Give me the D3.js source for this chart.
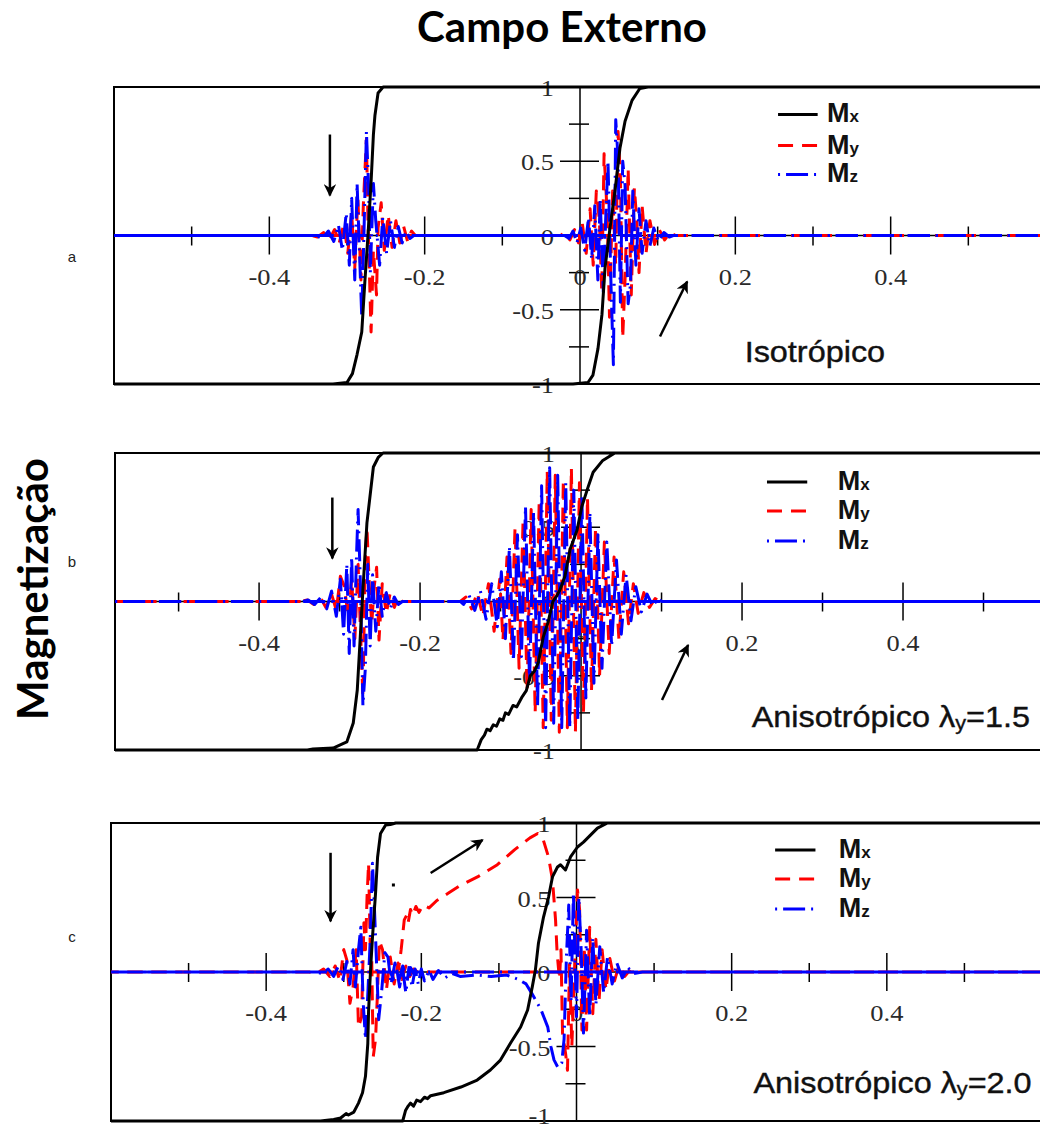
<!DOCTYPE html>
<html>
<head>
<meta charset="utf-8">
<script src="https://cdn.jsdelivr.net/npm/d3@7"></script>
<style>
  body { margin: 0; background: #fff; }
  svg { display: block; }
</style>
</head>
<body>
<svg id="chart" width="1040" height="1129"></svg>
<script>
// Hysteresis loops: magnetisation components vs external field.
// Each series is a list of [field, magnetisation] pairs, walked along the loop:
// first the descending branch (field +0.6 -> -0.6), then the ascending one.

// ---------- Isotropic ----------
const mxIso = [
  [0.6,1],[-0.2535,1],[-0.26,0.96],[-0.264,0.81],[-0.266,0.68],[-0.269,0.36],[-0.273,0],
  [-0.277,-0.31],[-0.281,-0.65],[-0.287,-0.8],[-0.293,-0.93],[-0.3,-0.99],[-0.318,-1],[-0.6,-1],
  [-0.009,-1],[0.0103,-0.99],[0.0167,-0.94],[0.0232,-0.76],[0.0283,-0.53],[0.0322,-0.22],
  [0.0386,0.05],[0.045,0.3],[0.0515,0.59],[0.058,0.77],[0.067,0.91],[0.077,0.99],[0.0875,1],[0.6,1]
];
const myIso = [
  [0.6,0],[-0.212,0],[-0.217,0.03],[-0.222,-0.04],[-0.227,0.06],[-0.232,-0.05],[-0.237,0.1],
  [-0.242,-0.08],[-0.247,0.14],[-0.252,-0.1],[-0.256,0.22],[-0.26,0.05],[-0.262,-0.4],
  [-0.266,-0.1],[-0.269,-0.65],[-0.273,0.1],[-0.275,0.65],[-0.279,0.2],[-0.282,-0.3],
  [-0.286,0.25],[-0.29,-0.22],[-0.294,0.15],[-0.299,-0.12],[-0.304,0.08],[-0.31,-0.05],
  [-0.316,0.04],[-0.323,-0.03],[-0.33,0.02],[-0.338,-0.01],[-0.345,0],[-0.6,0],
  [-0.025,0],[-0.019,0.02],[-0.013,-0.03],[-0.007,0.04],[-0.002,-0.05],[0.003,0.08],
  [0.008,-0.12],[0.013,0.18],[0.017,-0.2],[0.021,0.3],[0.025,0.1],[0.028,-0.38],[0.031,0.55],
  [0.035,0.15],[0.038,-0.55],[0.042,0.3],[0.046,-0.2],[0.049,0.7],[0.052,0.4],[0.055,-0.69],
  [0.058,-0.3],[0.062,0.45],[0.066,-0.4],[0.07,0.32],[0.073,0.11],[0.076,-0.25],[0.08,0.2],
  [0.085,-0.12],[0.09,0.1],[0.096,-0.06],[0.102,0.04],[0.109,-0.03],[0.116,0.02],[0.123,0],[0.6,0]
];
const mzIso = [
  [0.6,0],[-0.214,0],[-0.219,-0.02],[-0.224,0.03],[-0.229,-0.05],[-0.234,0.06],[-0.239,-0.08],
  [-0.244,0.1],[-0.249,-0.12],[-0.254,0.12],[-0.258,-0.2],[-0.263,0.1],[-0.266,0.35],
  [-0.27,-0.25],[-0.272,0.3],[-0.275,0.7],[-0.278,0.05],[-0.281,-0.55],[-0.284,-0.1],
  [-0.287,0.35],[-0.29,-0.3],[-0.294,0.25],[-0.297,-0.2],[-0.301,0.15],[-0.306,-0.1],
  [-0.311,0.07],[-0.317,-0.04],[-0.324,0.03],[-0.332,-0.02],[-0.34,0],[-0.6,0],
  [-0.02,0],[-0.014,-0.02],[-0.009,0.03],[-0.004,-0.05],[0.001,0.05],[0.006,-0.1],[0.011,0.12],
  [0.015,-0.16],[0.019,0.2],[0.023,-0.3],[0.026,0.25],[0.03,-0.38],[0.033,0.1],[0.036,0.5],
  [0.04,-0.35],[0.043,-0.87],[0.046,0.78],[0.049,0.52],[0.052,-0.45],[0.055,0.5],[0.058,0.34],
  [0.062,-0.46],[0.065,-0.33],[0.068,0.3],[0.072,-0.2],[0.076,0.18],[0.08,-0.12],[0.085,0.1],
  [0.09,-0.07],[0.095,0.05],[0.101,-0.04],[0.108,0.02],[0.115,-0.01],[0.12,0],[0.6,0]
];

// ---------- Anisotropic, lambda_y = 1.5 ----------
const mxAni15 = [
  [0.6,1],[-0.246,1],[-0.252,0.97],[-0.258,0.906],[-0.266,0.529],[-0.271,0.077],[-0.2745,-0.259],
  [-0.278,-0.596],[-0.283,-0.818],[-0.291,-0.946],[-0.308,-0.987],[-0.333,-0.993],[-0.34,-1],[-0.6,-1],
  [-0.129,-1],[-0.124,-0.93],[-0.12,-0.9],[-0.117,-0.86],[-0.113,-0.87],[-0.109,-0.83],
  [-0.105,-0.84],[-0.101,-0.79],[-0.097,-0.8],[-0.094,-0.75],[-0.09,-0.76],[-0.0845,-0.7],
  [-0.08,-0.71],[-0.073,-0.64],[-0.068,-0.6],[-0.063,-0.5],[-0.058,-0.47],[-0.053,-0.41],
  [-0.047,-0.24],[-0.041,-0.14],[-0.035,0.0],[-0.03,0.04],[-0.026,0.08],[-0.02,0.17],
  [-0.0137,0.35],[-0.005,0.48],[0.001,0.64],[0.0087,0.77],[0.015,0.87],[0.027,0.95],[0.042,1],[0.6,1]
];
const myAni15 = [
  [0.6,0],[-0.222,0],[-0.227,0.03],[-0.232,-0.04],[-0.237,0.06],[-0.242,-0.08],[-0.247,0.12],
  [-0.251,-0.26],[-0.254,0.23],[-0.257,0.1],[-0.26,-0.15],[-0.263,0.1],[-0.266,0.5],
  [-0.268,0.3],[-0.271,-0.64],[-0.274,-0.2],[-0.277,0.25],[-0.281,-0.25],[-0.285,0.15],
  [-0.289,-0.12],[-0.294,0.1],[-0.299,0.17],[-0.304,-0.06],[-0.31,0.05],[-0.317,-0.04],
  [-0.324,0.03],[-0.332,-0.02],[-0.34,0.01],[-0.35,0],[-0.6,0],
  [-0.15,0],[-0.143,0.03],[-0.136,-0.05],[-0.129,0.06],[-0.122,-0.1],[-0.115,0.12],[-0.108,-0.2],
  [-0.101,0.15],[-0.097,-0.26],[-0.092,0.3],[-0.087,-0.35],[-0.082,0.5],[-0.077,-0.45],
  [-0.072,0.55],[-0.067,-0.6],[-0.062,0.62],[-0.057,-0.75],[-0.052,0.68],[-0.047,-0.85],
  [-0.042,0.88],[-0.037,-0.8],[-0.032,0.85],[-0.027,-0.88],[-0.022,0.82],[-0.017,-0.85],
  [-0.012,0.9],[-0.007,-0.88],[-0.002,0.8],[0.003,-0.75],[0.008,0.7],[0.013,-0.6],[0.018,0.5],
  [0.023,-0.5],[0.029,0.4],[0.035,-0.35],[0.041,0.3],[0.047,-0.25],[0.053,0.2],[0.059,-0.15],
  [0.065,0.12],[0.071,-0.08],[0.078,0.06],[0.085,-0.04],[0.092,0.02],[0.098,0],[0.6,0]
];
const mzAni15 = [
  [0.6,0],[-0.222,0],[-0.227,-0.02],[-0.232,0.03],[-0.237,-0.05],[-0.242,0.06],[-0.247,-0.1],
  [-0.251,0.12],[-0.255,-0.2],[-0.259,0.18],[-0.262,-0.3],[-0.265,0.25],[-0.268,-0.45],
  [-0.271,-0.7],[-0.274,0.1],[-0.277,0.62],[-0.279,0.3],[-0.282,-0.3],[-0.285,0.3],
  [-0.288,-0.35],[-0.291,0.25],[-0.295,-0.22],[-0.299,0.15],[-0.304,-0.1],[-0.31,0.07],
  [-0.316,-0.05],[-0.323,0.03],[-0.331,-0.02],[-0.339,0.01],[-0.346,0],[-0.6,0],
  [-0.15,0],[-0.146,-0.02],[-0.139,0.04],[-0.132,-0.06],[-0.125,0.07],[-0.118,-0.12],[-0.111,0.12],
  [-0.104,-0.17],[-0.099,0.2],[-0.094,-0.25],[-0.089,0.37],[-0.084,-0.4],[-0.079,0.45],
  [-0.074,-0.37],[-0.069,0.64],[-0.064,-0.55],[-0.059,0.6],[-0.054,-0.7],[-0.049,0.78],
  [-0.044,-0.85],[-0.039,0.9],[-0.034,-0.82],[-0.029,0.85],[-0.024,-0.85],[-0.019,0.8],
  [-0.014,-0.85],[-0.009,0.75],[-0.004,-0.8],[0.001,0.72],[0.006,-0.65],[0.011,0.6],[0.016,-0.55],
  [0.021,0.45],[0.026,-0.45],[0.032,0.4],[0.038,-0.3],[0.044,0.28],[0.05,-0.22],[0.056,0.18],
  [0.062,-0.13],[0.068,0.1],[0.075,-0.07],[0.082,0.05],[0.089,-0.03],[0.096,0.02],[0.1,0],[0.6,0]
];

// ---------- Anisotropic, lambda_y = 2.0 ----------
const mxAni20 = [
  [0.6,1],[-0.233,1],[-0.24,0.99],[-0.246,0.987],[-0.2526,0.93],[-0.2564,0.77],[-0.259,0.53],
  [-0.263,0.23],[-0.2655,0.01],[-0.268,-0.26],[-0.269,-0.48],[-0.272,-0.7],[-0.2758,-0.81],
  [-0.281,-0.88],[-0.287,-0.94],[-0.294,-0.96],[-0.297,-0.95],[-0.304,-0.98],[-0.313,-0.99],
  [-0.33,-1],[-0.6,-1],
  [-0.224,-1],[-0.2204,-0.93],[-0.217,-0.9],[-0.214,-0.88],[-0.21,-0.9],[-0.206,-0.86],
  [-0.201,-0.87],[-0.196,-0.84],[-0.192,-0.85],[-0.188,-0.83],[-0.171,-0.81],[-0.149,-0.772],
  [-0.128,-0.725],[-0.111,-0.658],[-0.098,-0.591],[-0.085,-0.477],[-0.072,-0.369],
  [-0.063,-0.255],[-0.057,-0.1],[-0.053,0.013],[-0.049,0.195],[-0.0425,0.369],[-0.036,0.503],
  [-0.031,0.638],[-0.0245,0.705],[-0.0206,0.72],[-0.0142,0.685],[-0.0077,0.772],[0.0013,0.839],
  [0.009,0.872],[0.018,0.919],[0.027,0.966],[0.04,1],[0.6,1]
];
const myAni20 = [
  [0.6,0],[-0.205,0],[-0.21,0.02],[-0.215,-0.03],[-0.22,0.04],[-0.225,-0.05],[-0.23,0.06],
  [-0.235,-0.08],[-0.24,0.1],[-0.245,-0.12],[-0.25,0.15],[-0.254,0.21],[-0.257,-0.2],
  [-0.259,-0.45],[-0.262,-0.57],[-0.264,0.1],[-0.266,0.2],[-0.268,0.73],[-0.27,0.5],
  [-0.272,0.15],[-0.274,0.33],[-0.277,-0.3],[-0.281,-0.37],[-0.284,0.15],[-0.288,-0.1],
  [-0.292,-0.21],[-0.296,0.08],[-0.3,0.15],[-0.305,-0.06],[-0.311,0.04],[-0.318,-0.03],
  [-0.326,0.02],[-0.335,-0.01],[-0.345,0],[-0.6,0],
  [-0.232,0],[-0.229,0.03],[-0.226,0.15],[-0.224,0.25],[-0.222,0.35],[-0.219,0.38],[-0.217,0.33],
  [-0.214,0.42],[-0.211,0.38],[-0.207,0.44],[-0.203,0.4],[-0.198,0.45],[-0.19,0.43],[-0.18,0.48],
  [-0.165,0.53],[-0.15,0.58],[-0.127,0.64],[-0.102,0.72],[-0.08,0.82],[-0.06,0.9],[-0.05,0.93],
  [-0.043,0.89],[-0.036,0.77],[-0.031,0.62],[-0.027,0.35],[-0.025,0.13],[-0.022,-0.05],
  [-0.02,0.15],[-0.018,-0.41],[-0.014,-0.55],[-0.0116,-0.66],[-0.009,0.05],[-0.006,-0.5],
  [-0.002,0.1],[0.0013,0.55],[0.004,0.42],[0.007,-0.39],[0.01,0.17],[0.013,-0.39],[0.017,0.3],
  [0.021,-0.28],[0.025,0.22],[0.029,-0.2],[0.033,0.15],[0.038,-0.12],[0.043,0.09],[0.049,-0.06],
  [0.055,0.05],[0.062,-0.03],[0.07,0.02],[0.078,0],[0.6,0]
];
const mzAni20 = [
  [0.6,0],[-0.205,0],[-0.209,-0.02],[-0.214,0.03],[-0.219,-0.04],[-0.224,0.04],[-0.229,-0.06],
  [-0.234,0.06],[-0.239,-0.08],[-0.243,0.1],[-0.247,0.13],[-0.251,-0.12],[-0.255,-0.32],
  [-0.258,0.1],[-0.261,0.5],[-0.263,0.73],[-0.266,0.2],[-0.269,-0.15],[-0.272,-0.45],
  [-0.275,-0.2],[-0.278,0.3],[-0.281,0.15],[-0.285,-0.1],[-0.288,0.15],[-0.292,-0.08],
  [-0.296,0.07],[-0.301,-0.05],[-0.307,0.04],[-0.313,-0.03],[-0.32,0.02],[-0.328,-0.01],
  [-0.337,0],[-0.6,0],
  [-0.24,0],[-0.236,-0.05],[-0.232,0.03],[-0.228,-0.1],[-0.224,0.02],[-0.22,-0.14],[-0.216,0.03],
  [-0.212,-0.1],[-0.208,0.02],[-0.204,-0.08],[-0.2,0.02],[-0.196,-0.06],[-0.19,0.01],
  [-0.185,-0.05],[-0.178,0.01],[-0.17,-0.04],[-0.16,-0.01],[-0.15,-0.03],[-0.13,-0.02],
  [-0.11,-0.03],[-0.09,-0.02],[-0.075,-0.05],[-0.065,-0.08],[-0.058,-0.14],[-0.046,-0.25],
  [-0.037,-0.37],[-0.033,-0.5],[-0.029,-0.59],[-0.024,-0.64],[-0.019,-0.61],[-0.016,-0.45],
  [-0.013,0.1],[-0.01,0.45],[-0.007,-0.2],[-0.004,0.53],[0.0,-0.3],[0.003,0.5],[0.006,0.15],
  [0.009,-0.41],[0.013,0.28],[0.017,-0.3],[0.021,0.23],[0.025,-0.22],[0.03,0.17],[0.035,-0.14],
  [0.04,0.1],[0.046,-0.08],[0.052,0.06],[0.059,-0.04],[0.066,0.03],[0.074,-0.01],[0.085,0],[0.6,0]
];

// Axis ticks and their labels
const xMajorTicks = [-0.4, -0.2, 0.2, 0.4];
const xMinorTicks = [-0.5, -0.3, -0.1, 0.1, 0.3, 0.5];
const xTickLabels = [-0.4, -0.2, 0, 0.2, 0.4];
const yMajorTicks = [-0.5, 0.5];
const yMinorTicks = [-0.75, -0.25, 0.25, 0.75];
const yTickLabels = [1, 0.5, 0, -0.5, -1];

const seriesNames = ["x", "y", "z"];
const panelTags = ["a", "b", "c"];

// ---------- Layout ----------
const W = 1040, H = 1129;
const panels = [
  { series: [mxIso, myIso, mzIso], xDomain: [-0.6, 0.6], xRange: [114, 1046], yRange: [384, 87],
    caption: { h: 0.212, m: -0.855, main: "Isotrópico" },
    legend: { h0: 0.255, h1: 0.306, ht: 0.318, m: [0.815, 0.606, 0.411] },
    arrows: [[-0.322, 0.68, -0.322, 0.27], [0.103, -0.68, 0.138, -0.31]], dots: [], tagY: 257 },
  { series: [mxAni15, myAni15, mzAni15], xDomain: [-0.579, 0.6], xRange: [115, 1064], yRange: [750, 453],
    caption: { h: 0.212, m: -0.845, main: "Anisotrópico λ", sub: "y", tail: "=1.5" },
    legend: { h0: 0.231, h1: 0.281, ht: 0.319, m: [0.805, 0.609, 0.407] },
    arrows: [[-0.309, 0.70, -0.309, 0.29], [0.1006, -0.663, 0.133, -0.293]], dots: [], tagY: 562 },
  { series: [mxAni20, myAni20, mzAni20], xDomain: [-0.6, 0.6], xRange: [111, 1042], yRange: [1121, 823],
    caption: { h: 0.228, m: -0.81, main: "Anisotrópico λ", sub: "y", tail: "=2.0" },
    legend: { h0: 0.256, h1: 0.308, ht: 0.338, m: [0.819, 0.624, 0.423] },
    arrows: [[-0.317, 0.80, -0.317, 0.34], [-0.188, 0.664, -0.121, 0.886]], dots: [[-0.236, 0.584]], tagY: 937 }
];

const styles = [
  { stroke: "#000", dash: null, width: 3 },
  { stroke: "#ff0000", dash: "15,9", width: 3 },
  { stroke: "#0000ff", dash: "2,6,22,6", width: 3 }
];

const svg = d3.select("#chart");
const defs = svg.append("defs");
defs.append("marker")
  .attr("id", "head").attr("viewBox", "0 0 10 10").attr("refX", 9).attr("refY", 5)
  .attr("markerWidth", 5).attr("markerHeight", 5).attr("markerUnits", "strokeWidth")
  .attr("orient", "auto")
  .append("path").attr("d", "M0,0 L10,5 L0,10 L3,5 Z").attr("fill", "#000");

const serif = "'Liberation Serif','Times New Roman',serif";
const sans = "'Liberation Sans',Arial,sans-serif";
const headFont = "Lato,'Open Sans',sans-serif";

// Titles
svg.append("text").attr("x", 562).attr("y", 42).attr("text-anchor", "middle")
  .attr("font-family", headFont).attr("font-weight", 700).attr("font-size", 42)
  .text("Campo Externo");
svg.append("text").attr("transform", "translate(48,589) rotate(-90)").attr("text-anchor", "middle")
  .attr("font-family", headFont).attr("font-weight", 700).attr("font-size", 42)
  .text("Magnetização");

panels.forEach((p, i) => {
  const x = d3.scaleLinear().domain(p.xDomain).range(p.xRange);
  const y = d3.scaleLinear().domain([-1, 1]).range(p.yRange);
  const g = svg.append("g");
  const x0 = x(0), y0 = y(0);

  // panel tag
  svg.append("text").attr("x", 72).attr("y", p.tagY + 5).attr("text-anchor", "middle")
    .attr("font-family", sans).attr("font-size", 15).attr("fill", "#222").text(panelTags[i]);

  // frame
  g.append("rect").attr("x", p.xRange[0]).attr("y", p.yRange[1])
    .attr("width", p.xRange[1] - p.xRange[0]).attr("height", p.yRange[0] - p.yRange[1])
    .attr("fill", "none").attr("stroke", "#000").attr("stroke-width", 2);

  // zero axes
  g.append("line").attr("x1", p.xRange[0]).attr("x2", p.xRange[1]).attr("y1", y0).attr("y2", y0)
    .attr("stroke", "#000").attr("stroke-width", 1.5);
  g.append("line").attr("x1", x0).attr("x2", x0).attr("y1", p.yRange[1]).attr("y2", p.yRange[0])
    .attr("stroke", "#000").attr("stroke-width", 1.5);

  // crossing ticks
  const tk = g.append("g").attr("stroke", "#000").attr("stroke-width", 1.5);
  xMajorTicks.forEach(v => tk.append("line").attr("x1", x(v)).attr("x2", x(v)).attr("y1", y0 - 19).attr("y2", y0 + 19));
  xMinorTicks.forEach(v => tk.append("line").attr("x1", x(v)).attr("x2", x(v)).attr("y1", y0 - 9).attr("y2", y0 + 10));
  yMajorTicks.forEach(v => tk.append("line").attr("x1", x0 - 20).attr("x2", x0 + 19).attr("y1", y(v)).attr("y2", y(v)));
  yMinorTicks.forEach(v => tk.append("line").attr("x1", x0 - 11).attr("x2", x0 + 9).attr("y1", y(v)).attr("y2", y(v)));

  // tick labels (slightly wide serif digits)
  const tl = g.append("g").attr("font-family", serif).attr("font-size", 23).attr("fill", "#2a2a2a");
  xTickLabels.forEach(v => tl.append("text")
    .attr("transform", `translate(${x(v)},${y0 + 49}) scale(1.15,1)`)
    .attr("text-anchor", "middle").text(String(v)));
  yTickLabels.forEach(v => tl.append("text")
    .attr("transform", `translate(${x0 - 26},${Math.min(y(v) + 9, H - 5)}) scale(1.15,1)`)
    .attr("text-anchor", "end").text(String(v)));

  // data
  const clipId = "clip" + i;
  defs.append("clipPath").attr("id", clipId).append("rect")
    .attr("x", p.xRange[0]).attr("y", p.yRange[1] - 2)
    .attr("width", p.xRange[1] - p.xRange[0]).attr("height", p.yRange[0] - p.yRange[1] + 4);
  const dg = g.append("g").attr("clip-path", `url(#${clipId})`);
  const line = d3.line().x(d => x(d[0])).y(d => y(d[1]));
  [1, 2, 0].forEach(k => {
    const s = styles[k];
    dg.append("path").datum(p.series[k]).attr("d", line)
      .attr("fill", "none").attr("stroke", s.stroke).attr("stroke-width", s.width)
      .attr("stroke-dasharray", s.dash).attr("stroke-linejoin", "round");
  });

  // legend
  const lg = g.append("g");
  seriesNames.forEach((n, k) => {
    const s = styles[k];
    const ly = y(p.legend.m[k]);
    lg.append("line").attr("x1", x(p.legend.h0)).attr("x2", x(p.legend.h1)).attr("y1", ly).attr("y2", ly)
      .attr("stroke", s.stroke).attr("stroke-width", s.width).attr("stroke-dasharray", s.dash);
    const t = lg.append("text").attr("x", x(p.legend.ht)).attr("y", ly + 8)
      .attr("font-family", sans).attr("font-weight", 700).attr("font-size", 27).attr("fill", "#111");
    t.append("tspan").text("M");
    t.append("tspan").attr("font-size", 17).text(n);
  });

  // caption
  const c = g.append("text")
    .attr("transform", `translate(${x(p.caption.h)},${y(p.caption.m)}) scale(1.08,1)`)
    .attr("font-family", sans).attr("font-size", 30).attr("fill", "#111")
    .attr("stroke", "#111").attr("stroke-width", 0.4);
  c.append("tspan").text(p.caption.main);
  if (p.caption.sub) {
    c.append("tspan").attr("font-size", 20).attr("dy", 3).text(p.caption.sub);
    c.append("tspan").attr("dy", -3).text(p.caption.tail);
  }

  // field-sweep arrows
  p.arrows.forEach(a => {
    g.append("line").attr("x1", x(a[0])).attr("y1", y(a[1])).attr("x2", x(a[2])).attr("y2", y(a[3]))
      .attr("stroke", "#000").attr("stroke-width", 2.5).attr("marker-end", "url(#head)");
  });
  p.dots.forEach(d => {
    g.append("rect").attr("x", x(d[0]) - 1.5).attr("y", y(d[1]) - 1.5).attr("width", 3).attr("height", 3).attr("fill", "#000");
  });
});
</script>
</body>
</html>
